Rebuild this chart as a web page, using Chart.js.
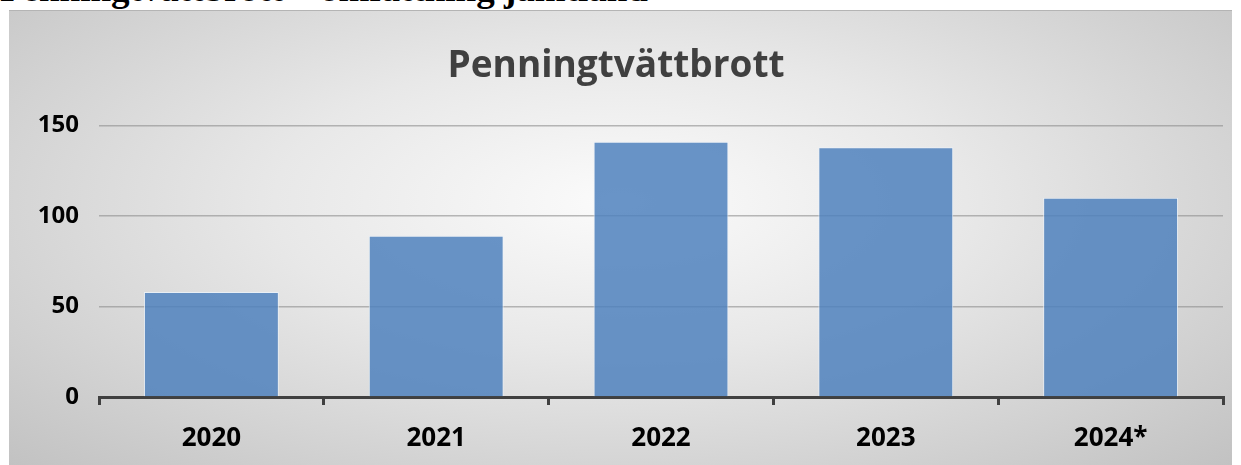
<!DOCTYPE html>
<html>
<head>
<meta charset="utf-8">
<script src="https://cdn.jsdelivr.net/npm/chart.js@4.4.0/dist/chart.umd.min.js"></script>
<style>
  html, body { margin: 0; padding: 0; background: #ffffff; width: 1241px; height: 465px; overflow: hidden; }
  #heading { position: absolute; left: 0; top: -31px; font: bold 37px "Liberation Serif", "Times New Roman", serif; color: #000; white-space: nowrap; line-height: 40px; }
  #frame { position: absolute; left: 9px; top: 10px; width: 1223px; height: 455px;
    background: radial-gradient(ellipse at 50% 42%, #fbfbfb 0%, #e8e8e8 40%, #c2c2c2 100%);
    border-top: 1px solid #b4b4b4; box-sizing: border-box; }
  #wrap { position: absolute; left: 0; top: 0; width: 1223px; height: 454px; }
</style>
</head>
<body>
<div id="heading">Penningtvättbrott – omfattning jämtland</div>
<div id="frame"><div id="wrap"><canvas id="c"></canvas></div></div>
<script>
const categories = ["2020", "2021", "2022", "2023", "2024*"];
const values = [58, 89, 141, 138, 110];
const yTicks = [0, 50, 100, 150];
const chartTitle = "Penningtvättbrott";

const FONT = "'Open Sans', Lato, sans-serif";

new Chart(document.getElementById("c"), {
  type: "bar",
  data: {
    labels: categories,
    datasets: [{
      data: values,
      backgroundColor: "rgba(79,129,189,0.85)",
      borderColor: "rgba(235,242,250,0.8)",
      borderWidth: 1,
      categoryPercentage: 1.0,
      barPercentage: 0.6
    }]
  },
  options: {
    responsive: true,
    maintainAspectRatio: false,
    animation: false,
    layout: { padding: { left: 0, right: 9, top: 0, bottom: 0 } },
    plugins: {
      legend: { display: false },
      tooltip: { enabled: false },
      title: {
        display: true,
        text: chartTitle,
        color: "#404040",
        font: { family: FONT, size: 37, weight: "bold", lineHeight: 1.2 },
        padding: { top: 33, bottom: 37 }
      }
    },
    scales: {
      x: {
        afterFit: (s) => { s.height = 68; },
        grid: { display: true, drawOnChartArea: false, drawTicks: true, tickLength: 8, color: "#404040", lineWidth: 3 },
        border: { display: true, color: "#404040", width: 3 },
        ticks: { color: "#000", font: { family: FONT, size: 26, weight: "bold" }, padding: 18 }
      },
      y: {
        min: 0, max: 150,
        afterBuildTicks: (s) => { s.ticks = yTicks.map(v => ({ value: v })); },
        afterFit: (s) => { s.width = 90; },
        grid: { color: "rgba(140,140,140,0.6)", lineWidth: 1.5, drawTicks: false },
        border: { display: false },
        ticks: { color: "#000", font: { family: FONT, size: 24, weight: "bold" }, padding: 20 }
      }
    }
  }
});
</script>
</body>
</html>
